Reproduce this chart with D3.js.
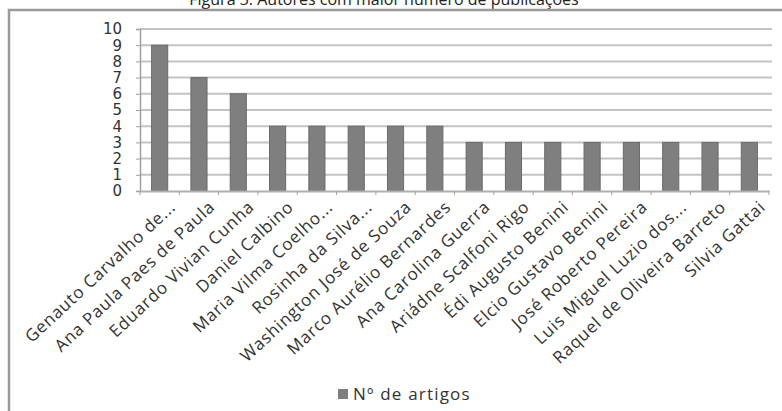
<!DOCTYPE html>
<html>
<head>
	<meta charset="utf-8">
	<title>Autores</title>
	<script src="https://cdn.jsdelivr.net/npm/d3@7"></script>
	<style type="text/css">
		body { margin: 0; background: #fff; }
		svg { display: block; }
	</style>
</head>
<body>
	<script type="text/javascript">
		// data
		var autores = ["Genauto Carvalho de...", "Ana Paula Paes de Paula", "Eduardo Vivian Cunha",
			"Daniel Calbino", "Maria Vilma Coelho...", "Rosinha da Silva...", "Washington José de Souza",
			"Marco Aurélio Bernardes", "Ana Carolina Guerra", "Ariádne Scalfoni Rigo", "Édi Augusto Benini",
			"Elcio Gustavo Benini", "José Roberto Pereira", "Luis Miguel Luzio dos...",
			"Raquel de Oliveira Barreto", "Silvia Gattai"];
		var artigos = [9, 7, 6, 4, 4, 4, 4, 4, 3, 3, 3, 3, 3, 3, 3, 3];
		var yTicks = [0, 1, 2, 3, 4, 5, 6, 7, 8, 9, 10];
		var titulo = "Figura 3: Autores com maior número de publicações";
		var legenda = "Nº de artigos";

		var width = 782, height = 411;
		var plotLeft = 140, plotRight = 769, plotTop = 29, plotBottom = 191;

		var svg = d3.select("body").append("svg")
			.attr("width", width)
			.attr("height", height);

		// title, cut off at the top
		svg.append("text")
			.attr("x", 384)
			.attr("y", 5)
			.attr("text-anchor", "middle")
			.style("font-family", "Open Sans")
			.style("font-size", "16px")
			.attr("fill", "#222")
			.text(titulo);

		// frame
		svg.append("path")
			.attr("d", "M9,411 V10 H782")
			.attr("fill", "none")
			.attr("stroke", "#9a9a9a")
			.attr("stroke-width", 2.5);

		var xScale = d3.scaleBand()
			.domain(autores)
			.range([plotLeft, plotRight])
			.paddingInner(0.59)
			.paddingOuter(0.295);
		var yScale = d3.scaleLinear()
			.domain([0, 10])
			.range([plotBottom, plotTop]);

		// gridlines
		svg.append("g")
			.selectAll("line")
			.data(yTicks.slice(1))
			.enter()
			.append("line")
			  .attr("x1", plotLeft)
			  .attr("x2", 772)
			  .attr("y1", function(d) { return yScale(d); })
			  .attr("y2", function(d) { return yScale(d); })
			  .attr("stroke", "#c4c4c4")
			  .attr("stroke-width", 2);

		// bars
		svg.append("g")
			.selectAll("rect")
			.data(autores)
			.enter()
			.append("rect")
			  .attr("x", function(d) { return xScale(d); })
			  .attr("y", function(d, i) { return yScale(artigos[i]); })
			  .attr("width", xScale.bandwidth())
			  .attr("height", function(d, i) { return plotBottom - yScale(artigos[i]); })
			  .attr("fill", "#7f7f7f")
			  .attr("stroke", "#6a6a6a")
			  .attr("stroke-width", 1);

		// y axis
		var yAxis = svg.append("g")
			.attr("transform", "translate(" + plotLeft + ",0)")
			.call(d3.axisLeft(yScale).tickValues(yTicks).tickSize(4).tickPadding(14));
		yAxis.select(".domain").attr("stroke", "#a0a0a0").attr("stroke-width", 1.5);
		yAxis.selectAll(".tick line").attr("stroke", "#a0a0a0");
		yAxis.selectAll("text")
			.style("font-family", "DejaVu Sans")
			.style("font-size", "15px")
			.attr("fill", "#333");

		// x axis
		var xAxis = svg.append("g")
			.attr("transform", "translate(0," + plotBottom + ")")
			.call(d3.axisBottom(xScale).tickSize(0).tickFormat(""));
		xAxis.select(".domain").attr("stroke", "#b0b0b0").attr("stroke-width", 2);

		// small ticks between categories
		var step = xScale.step();
		svg.append("g")
			.selectAll("line")
			.data(d3.range(autores.length + 1))
			.enter()
			.append("line")
			  .attr("x1", function(d) { return plotLeft + d * step; })
			  .attr("x2", function(d) { return plotLeft + d * step; })
			  .attr("y1", plotBottom)
			  .attr("y2", plotBottom + 4)
			  .attr("stroke", "#a0a0a0");

		// rotated category labels
		svg.append("g")
			.selectAll("text")
			.data(autores)
			.enter()
			.append("text")
			  .attr("transform", function(d) {
			    var cx = xScale(d) + xScale.bandwidth() / 2 + 13;
			    return "translate(" + cx + "," + (plotBottom + 13) + ") rotate(-43)";
			  })
			  .attr("text-anchor", "end")
			  .attr("dy", "0.35em")
			  .style("font-family", "Open Sans")
			  .style("font-size", "17px")
			  .style("letter-spacing", "0.8px")
			  .attr("fill", "#333")
			  .text(function(d) { return d; });

		// legend
		svg.append("rect")
			.attr("x", 338)
			.attr("y", 389)
			.attr("width", 10)
			.attr("height", 10)
			.attr("fill", "#7f7f7f");
		svg.append("text")
			.attr("x", 353)
			.attr("y", 400)
			.style("font-family", "Open Sans")
			.style("font-size", "17px")
			.style("letter-spacing", "1.2px")
			.attr("fill", "#333")
			.text(legenda);
	</script>
</body>
</html>
